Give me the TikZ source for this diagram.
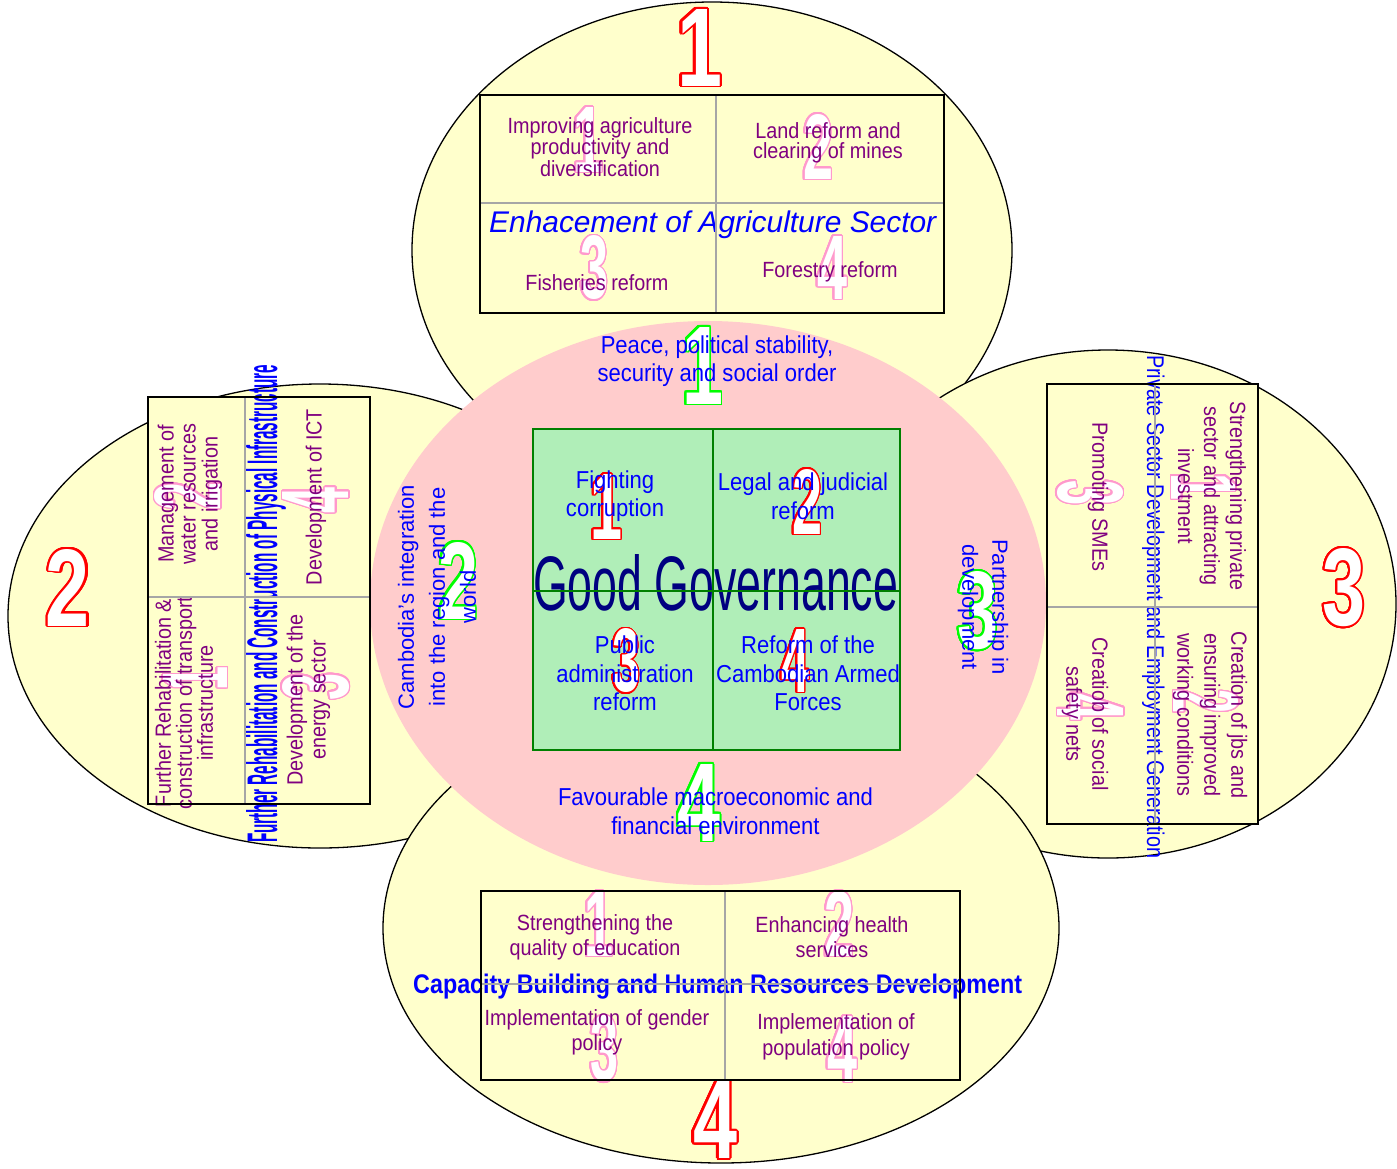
\documentclass[tikz,border=0pt]{standalone}
\usepackage{fontspec}
\usepackage{graphicx}
\usepackage[copies]{contour}
\setmainfont{Liberation Sans}
\newfontfamily\nf{Liberation Sans}[FakeStretch=0.9]
\newfontfamily\df{Liberation Sans}[FakeStretch=0.6]
\contourlength{1.4pt}
\contournumber{32}
\definecolor{yel}{HTML}{FFFFCC}
\definecolor{pnk}{HTML}{FFCCCC}
\definecolor{grnf}{HTML}{B0EEB8}
\definecolor{dgrn}{HTML}{008000}
\definecolor{purp}{HTML}{800080}
\definecolor{pkd}{HTML}{FF99CC}
\definecolor{gdig}{HTML}{00FF00}
\definecolor{navyc}{HTML}{000080}
\definecolor{divg}{HTML}{A6A6A6}
\newcommand\odig[4]{\resizebox{#1pt}{#2pt}{\contour{#3}{#4}}}
\begin{document}
\begin{tikzpicture}[x=1pt,y=-1pt,
 ell/.style={draw=black, line width=1.3pt, fill=yel},
 sbox/.style={draw=black, line width=2pt, fill=yel},
 divl/.style={draw=divg, line width=1.8pt},
 itm/.style={text=purp, align=center, inner sep=0pt, font=\nf\fontsize{22}{#1}\selectfont},
 ctx/.style={text=blue, align=center, inner sep=0pt, font=\nf\fontsize{24.5}{28.5}\selectfont},
 stx/.style={text=blue, align=center, inner sep=0pt, font=\fontsize{22}{#1}\selectfont},
 dig/.style={inner sep=0pt, text=white, font=\df\bfseries\fontsize{90}{90}\selectfont},
 ttl/.style={inner sep=0pt, text=blue, anchor=base west}]
\fill[white] (0,0) rectangle (1397,1168);
\useasboundingbox (0,0) rectangle (1397,1168);
% outer ellipses
\path[ell] (712,250) ellipse [x radius=300pt, y radius=248pt];
\path[ell] (320,616) ellipse [x radius=312pt, y radius=232pt];
\path[ell] (1108,604) ellipse [x radius=288pt, y radius=254pt];
\path[ell] (721,928) ellipse [x radius=338pt, y radius=235pt];
\fill[pnk] (708,603) ellipse [x radius=338pt, y radius=282pt];
% big red numbers
\node[dig] (R1) at (699.5,48.5) {\odig{45}{77}{red}{1}};
\node[dig] (R2) at (68,588.5) {\odig{44}{77}{red}{2}};
\node[dig] (R3) at (1343.5,588.5) {\odig{43}{77}{red}{3}};
\node[dig] (R4) at (715,1121) {\odig{44}{77}{red}{4}};
% ---------- top box ----------
\path[sbox] (480,95) rectangle (944,313);
\node[dig] (ta) at (588,140.5) {\odig{30}{65}{pkd}{1}};
\node[dig] (tb) at (818,147.5) {\odig{30}{65}{pkd}{2}};
\node[dig] (tc) at (594,268.5) {\odig{28}{63}{pkd}{3}};
\node[dig] (td) at (832,268.5) {\odig{30}{63}{pkd}{4}};
\node[itm=20] (t1) at (600,147) {Improving agriculture\\productivity and\\diversification};
\node[itm=20] (t2) at (828,143) {Land reform and\\clearing of mines};
\node[itm=20] (t3) at (597,283) {Fisheries reform};
\node[itm=20] (t4) at (830,272) {Forestry reform};
\node[ttl, font=\itshape\fontsize{29}{29}\selectfont] (ttop) at (489,232) {\resizebox{447pt}{!}{Enhacement of Agriculture Sector}};
\draw[divl] (716,96) -- (716,312);
\draw[divl] (481,203) -- (943,203);
\draw[line width=2pt] (480,95) rectangle (944,313);
% ---------- left box ----------
\path[sbox] (148,397) rectangle (370,804);
\node[dig, rotate=90] (la) at (188.5,496) {\odig{28}{66}{pkd}{2}};
\node[dig, rotate=90] (lb) at (316.5,500) {\odig{26}{66}{pkd}{4}};
\node[dig, rotate=90] (lc) at (196,678.5) {\odig{24}{64}{pkd}{1}};
\node[dig, rotate=90] (ld) at (316.5,686.5) {\odig{27}{66}{pkd}{3}};
\node[itm=22, rotate=90] (l1) at (190,494) {Management of\\water resources\\and irrigation};
\node[itm=22, rotate=90] (l2) at (316,497) {Development of ICT};
\node[itm=21, rotate=90] (l3) at (184,703) {Further Rehabilitation \&\\construction of transport\\infrastructure};
\node[itm=23, rotate=90] (l4) at (308.5,700) {Development of the\\energy sector};
\node[ttl, rotate=90, font=\nf\bfseries\fontsize{40}{40}\selectfont] (tleft) at (277,843) {\resizebox{478pt}{31pt}{Further Rehabilitation and Construction of Physical Infrastructure}};
\draw[divl] (245,398) -- (245,803);
\draw[divl] (149,597) -- (369,597);
\draw[line width=2pt] (148,397) rectangle (370,804);
% ---------- right box ----------
\path[sbox] (1047,384) rectangle (1258,824);
\node[dig, rotate=-90] (ra) at (1203,486.5) {\odig{27}{64}{pkd}{1}};
\node[dig, rotate=-90] (rb) at (1089.5,492.5) {\odig{25}{65}{pkd}{3}};
\node[dig, rotate=-90] (rc) at (1205.5,701.5) {\odig{24}{65}{pkd}{2}};
\node[dig, rotate=-90] (rd) at (1090,706.5) {\odig{27}{66}{pkd}{4}};
\node[itm=26, rotate=-90] (r1) at (1212,496) {Strengthening private\\sector and attracting\\investment};
\node[itm=26, rotate=-90] (r2) at (1098,497) {Promoting SMEs};
\node[itm=27, rotate=-90] (r3) at (1210,715) {Creation of jbs and\\ensuring improved\\working conditions};
\node[itm=26, rotate=-90] (r4) at (1085,714) {Creatiob of social\\safety nets};
\node[ttl, rotate=-90, font=\fontsize{24}{24}\selectfont] (tright) at (1147,355) {\resizebox{503pt}{17.5pt}{Private Sector Development and Employment Generation}};
\draw[divl] (1155,385) -- (1155,823);
\draw[divl] (1048,607) -- (1257,607);
\draw[line width=2pt] (1047,384) rectangle (1258,824);
% ---------- bottom box ----------
\path[sbox] (481,891) rectangle (960,1080);
\node[dig] (ba) at (598.5,924.5) {\odig{29}{65}{pkd}{1}};
\node[dig] (bb) at (839,924.5) {\odig{30}{65}{pkd}{2}};
\node[dig] (bc) at (604,1049.5) {\odig{28}{65}{pkd}{3}};
\node[dig] (bd) at (842,1050) {\odig{30}{66}{pkd}{4}};
\node[itm=25] (b1) at (595,937.5) {Strengthening the\\quality of education};
\node[itm=25] (b2) at (832,937.5) {Enhancing health\\services};
\node[itm=25] (b3) at (597,1032.5) {Implementation of gender\\policy};
\node[itm=26] (b4) at (836,1036.5) {Implementation of\\population policy};
\node[ttl, font=\nf\bfseries\fontsize{27}{27}\selectfont] (tbot) at (413,993) {\resizebox{609pt}{19.5pt}{Capacity Building and Human Resources Development}};
\draw[divl] (725,892) -- (725,1079);
\draw[divl] (482,984) -- (959,984);
\draw[line width=2pt] (481,891) rectangle (960,1080);
% ---------- pink ring texts ----------
\node[dig] (g1) at (702.5,366.5) {\odig{41}{77}{gdig}{1}};
\node[dig] (g2) at (458,581.5) {\odig{40}{77}{gdig}{2}};
\node[dig] (g3) at (977.5,611.5) {\odig{41}{77}{gdig}{3}};
\node[dig] (g4) at (698.5,803.5) {\odig{43}{77}{gdig}{4}};
\node[ctx] (peace) at (717,361) {Peace, political stability,\\security and social order};
\node[ctx] (fav) at (715.5,811) {Favourable macroeconomic and\\financial environment};
\node[stx=31, rotate=90] (camb) at (437,597) {Cambodia’s integration\\into the region and the\\world};
\node[stx=30, rotate=-90] (part) at (983,607) {Partnership in\\development};
% ---------- centre box ----------
\path[fill=grnf] (533,429) rectangle (900,750);
\node[dig] (ca) at (606,507.5) {\odig{32}{65}{red}{1}};
\node[dig] (cb) at (807,502.5) {\odig{30}{65}{red}{2}};
\node[dig] (cc) at (626,661.5) {\odig{28}{63}{red}{3}};
\node[dig] (cd) at (795,661.5) {\odig{28}{63}{red}{4}};
\node[ctx] (c1) at (615,496) {Fighting\\corruption};
\node[ctx] (c2) at (803,496) {Legal and judicial\\reform};
\node[ctx] (c3) at (625,673.5) {Public\\administration\\reform};
\node[ctx] (c4) at (808,673.5) {Reform of the\\Cambodian Armed\\Forces};
\node[ttl, text=navyc, font=\fontsize{77}{77}\selectfont] (gg) at (533,610) {\resizebox{365pt}{56pt}{Good Governance}};
\draw[dgrn, line width=1.5pt] (713,429) -- (713,750);
\draw[dgrn, line width=1.5pt] (533,591) -- (900,591);
\draw[dgrn, line width=2.5pt] (533,429) rectangle (900,750);
\end{tikzpicture}
\end{document}
